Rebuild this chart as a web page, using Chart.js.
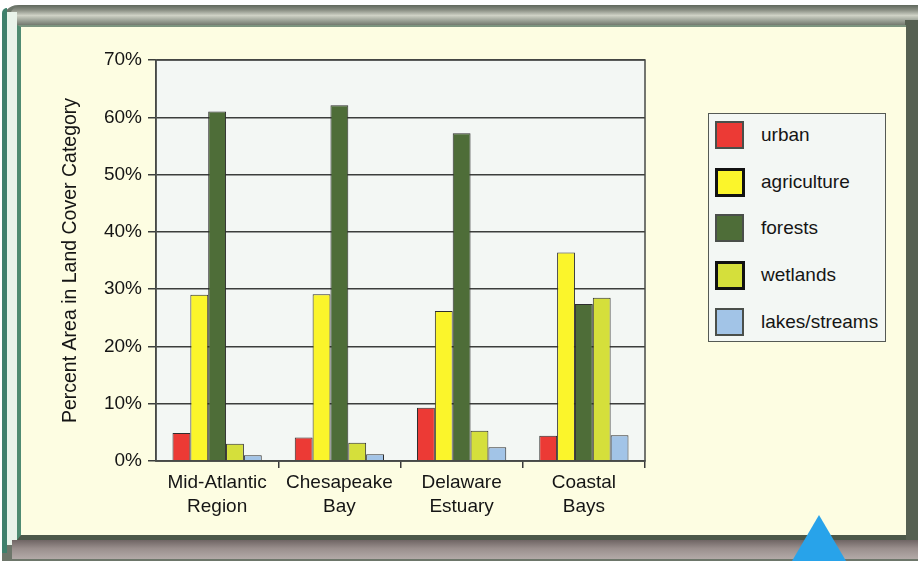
<!DOCTYPE html>
<html>
<head>
<meta charset="utf-8">
<script src="https://cdn.jsdelivr.net/npm/chart.js@4/dist/chart.umd.min.js"></script>
<style>
  html, body { margin: 0; padding: 0; width: 918px; height: 561px; overflow: hidden; background: #ffffff; }
  .abs { position: absolute; }
  #outer { left: 2px; top: 5px; width: 916px; height: 556px; background: #6d766a; border-top-left-radius: 16px; }
  #outerTeal { left: 2px; top: 8px; width: 5px; height: 545px; background: #3f806c; border-top-left-radius: 12px; }
  #whiteStrip { left: 7px; top: 12px; width: 10px; height: 533px; background: #e9f3ea; }
  #topBevel { left: 10px; top: 5px; width: 908px; height: 21px;
    background: linear-gradient(#5f675c 0%, #8c9186 25%, #cfd2c6 50%, #9aa095 75%, #6a7066 100%);
    border-top-left-radius: 12px; }
  #bottomBevel { left: 12px; top: 540px; width: 906px; height: 19px;
    background: linear-gradient(#6f6564 0%, #9a8f8d 45%, #b3aaa8 100%); }
  #rightBorder { left: 905px; top: 20px; width: 13px; height: 522px; background: #566052; }
  #cream { left: 17px; top: 25px; width: 885px; height: 508px; background: #fdfde2;
    border-left: 4px solid #4f8b72; border-top: 2px solid #7c947f; border-bottom: 5px solid #4c5849; }
  #tri { left: 792px; top: 515px; width: 54px; height: 46px; background: #28a3ea;
    clip-path: polygon(50% 0, 100% 100%, 0 100%); }
  #chart { left: 0; top: 0; }
  #legend { left: 708px; top: 113px; width: 176px; height: 227px; background: #f3f7f4;
    border: 1.5px solid #555a55; font-family: "Liberation Sans", Arial, sans-serif; font-size: 19px; color: #151515; }
  .item { position: absolute; left: 6px; height: 28px; width: 170px; }
  .sw { position: absolute; left: 0; top: 0; width: 24px; height: 23px; }
  .lbl { position: absolute; left: 46px; top: 2px; line-height: 24px; white-space: nowrap; }
</style>
</head>
<body>
<div id="outer" class="abs"></div>
<div id="topBevel" class="abs"></div>
<div id="outerTeal" class="abs"></div>
<div id="whiteStrip" class="abs"></div>
<div id="rightBorder" class="abs"></div>
<div id="bottomBevel" class="abs"></div>
<div id="cream" class="abs"></div>
<canvas id="chart" class="abs" width="918" height="561"></canvas>
<div id="legend" class="abs"></div>
<div id="tri" class="abs"></div>

<script>
// Regions (two-line tick labels)
const regions = [
    ['Mid-Atlantic', 'Region'],
    ['Chesapeake', 'Bay'],
    ['Delaware', 'Estuary'],
    ['Coastal', 'Bays']
];

// Percent area in each land cover category
const urban = [4.9, 4.1, 9.3, 4.4];
const agriculture = [29.0, 29.1, 26.2, 36.4];
const forests = [61.0, 62.1, 57.2, 27.4];
const wetlands = [3.0, 3.2, 5.3, 28.5];
const lakesStreams = [1.0, 1.2, 2.4, 4.5];

const seriesNames = ['urban', 'agriculture', 'forests', 'wetlands', 'lakes/streams'];
const seriesValues = [urban, agriculture, forests, wetlands, lakesStreams];
const seriesColors = ['#ec3a35', '#fbf52b', '#4e6d38', '#d5df3b', '#a2c4e7'];

const FONT = '"Liberation Sans", Arial, sans-serif';
const INK = '#151515';

// Plot background and frame round the chart area
const plotFrame = {
    id: 'plotFrame',
    beforeDraw(chart) {
        const {ctx, chartArea: a} = chart;
        ctx.save();
        ctx.fillStyle = '#f3f7f4';
        ctx.fillRect(a.left, a.top, a.right - a.left, a.bottom - a.top);
        ctx.restore();
    },
    afterDatasetsDraw(chart) {
        const {ctx, chartArea: a} = chart;
        ctx.save();
        ctx.strokeStyle = '#474a47';
        ctx.lineWidth = 1.5;
        ctx.strokeRect(a.left, a.top, a.right - a.left, a.bottom - a.top);
        ctx.restore();
    }
};

const ctx = document.getElementById('chart').getContext('2d');

const chart = new Chart(ctx, {
    type: 'bar',
    data: {
        labels: regions,
        datasets: seriesNames.map((name, i) => ({
            label: name,
            data: seriesValues[i],
            backgroundColor: seriesColors[i],
            borderColor: '#2e2e2e',
            borderWidth: 1,
            borderSkipped: 'bottom',
            categoryPercentage: 0.73,
            barPercentage: 1.0
        }))
    },
    options: {
        responsive: false,
        animation: false,
        devicePixelRatio: 1,
        layout: {
            padding: {left: 55, top: 60, right: 273, bottom: 30}
        },
        plugins: {
            legend: {display: false},
            tooltip: {enabled: false}
        },
        scales: {
            x: {
                offset: true,
                afterFit: (scale) => { scale.height = 70; },
                grid: {
                    drawOnChartArea: false,
                    offset: true,
                    tickLength: 7,
                    lineWidth: 1.5,
                    color: (c) => (c.index === 0 || c.index === regions.length) ? 'rgba(0,0,0,0)' : '#3a3a3a'
                },
                border: {display: true, color: '#474a47', width: 1.5},
                ticks: {
                    color: INK,
                    padding: 3,
                    maxRotation: 0,
                    autoSkip: false,
                    font: {family: FONT, size: 19, lineHeight: 1.26}
                }
            },
            y: {
                min: 0,
                max: 70,
                afterFit: (scale) => { scale.width = 101; },
                grid: {
                    color: '#3c3e3c',
                    lineWidth: 1.5,
                    tickLength: 8
                },
                border: {display: true, color: '#474a47', width: 1.5},
                ticks: {
                    stepSize: 10,
                    padding: 6,
                    color: INK,
                    font: {family: FONT, size: 19},
                    callback: (v) => v + '%'
                },
                title: {
                    display: true,
                    text: 'Percent Area in Land Cover Category',
                    color: INK,
                    padding: {top: 4, bottom: 0},
                    font: {family: FONT, size: 19.5}
                }
            }
        }
    },
    plugins: [plotFrame]
});

// Legend built from the chart's datasets
const legendEl = document.getElementById('legend');
const rowTops = [7, 54, 100, 147, 194];
const thickBorder = ['agriculture', 'wetlands'];
chart.data.datasets.forEach((ds, i) => {
    const item = document.createElement('div');
    item.className = 'item';
    item.style.top = rowTops[i] + 'px';
    const sw = document.createElement('div');
    sw.className = 'sw';
    sw.style.background = ds.backgroundColor;
    sw.style.border = thickBorder.includes(ds.label) ? '3px solid #111' : '2px solid #4a4f4a';
    if (!thickBorder.includes(ds.label)) { sw.style.width = '25px'; sw.style.height = '24px'; }
    const lbl = document.createElement('div');
    lbl.className = 'lbl';
    lbl.textContent = ds.label;
    item.appendChild(sw);
    item.appendChild(lbl);
    legendEl.appendChild(item);
});
</script>
</body>
</html>
